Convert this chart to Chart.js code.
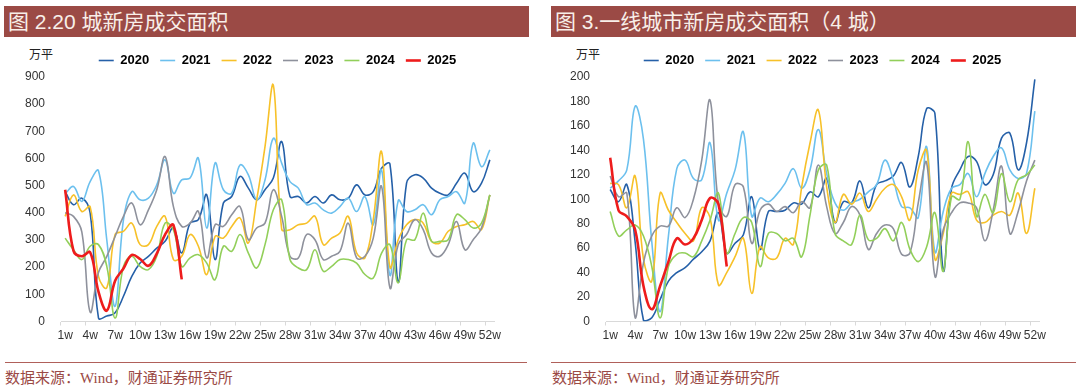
<!DOCTYPE html>
<html>
<head>
<meta charset="utf-8">
<script src="https://cdn.jsdelivr.net/npm/chart.js@4.4.1/dist/chart.umd.min.js"></script>
<style>
    body { margin: 0; width: 1080px; height: 391px; overflow: hidden; background: #fff; position: relative; font-family: "Liberation Sans", Arial, sans-serif; }
    .title { position: absolute; top: 6px; height: 31px; background: #9b4a45; color: #f8efe9; font-family: "Liberation Sans", "Noto Sans CJK SC", sans-serif; font-size: 21px; line-height: 31px; padding-left: 4px; box-sizing: border-box; white-space: nowrap; }
    .unit { position: absolute; top: 47px; font-size: 12px; line-height: 14px; color: #222; font-family: "Noto Sans CJK SC", sans-serif; }
    .rule { position: absolute; top: 362px; height: 1px; background: #b0605a; }
    .src { position: absolute; top: 369px; font-size: 15px; line-height: 18px; color: #9b4a45; font-family: "Liberation Serif", "Noto Sans CJK SC", serif; white-space: nowrap; }
    .box { position: absolute; top: 39px; height: 310px; }
</style>
</head>
<body>

<div class="title" style="left:4px;width:525px;">图 2.20 城新房成交面积</div>
<div class="title" style="left:551px;width:525px;">图 3.一线城市新房成交面积（4 城）</div>

<div class="unit" style="left:29px;">万平</div>
<div class="unit" style="left:576px;">万平</div>

<div class="box" style="left:0;width:540px;"><canvas id="leftChart" width="540" height="310"></canvas></div>
<div class="box" style="left:546px;width:534px;"><canvas id="rightChart" width="534" height="310"></canvas></div>

<div class="rule" style="left:5px;width:522px;"></div>
<div class="rule" style="left:551px;width:525px;"></div>
<div class="src" style="left:5px;">数据来源：Wind，财通证券研究所</div>
<div class="src" style="left:552px;">数据来源：Wind，财通证券研究所</div>

<script>
// week labels on the x axis (only every third one is shown)
const weeks = ['1w','2w','3w','4w','5w','6w','7w','8w','9w','10w','11w','12w','13w',
    '14w','15w','16w','17w','18w','19w','20w','21w','22w','23w','24w','25w','26w',
    '27w','28w','29w','30w','31w','32w','33w','34w','35w','36w','37w','38w','39w',
    '40w','41w','42w','43w','44w','45w','46w','47w','48w','49w','50w','51w','52w'];

const years = ['2020', '2021', '2022', '2023', '2024', '2025'];
const colors = ['#2560a8', '#6cc0ee', '#f7c129', '#8e919c', '#92cf5a', '#ee1c1c'];

// left chart: city new-home sales area (万平)
const city2020 = [478,430,454,400,13,20,32,93,166,215,240,270,295,344,252,362,375,466,228,436,460,534,491,448,485,528,
    662,460,460,436,460,436,466,448,454,503,466,478,564,580,145,509,540,528,491,472,466,509,546,478,509,595];
const city2021 = [470,497,442,515,555,300,56,374,478,448,454,503,595,472,521,528,601,344,583,485,472,576,540,448,521,674,
    583,515,491,430,436,411,399,423,454,405,460,356,558,170,445,405,411,430,393,448,460,478,436,656,570,632];
const city2022 = [387,466,405,423,166,124,320,332,362,283,283,350,387,228,240,320,277,173,313,307,350,381,289,448,644,870,
    340,338,356,362,387,283,307,326,387,252,234,375,625,200,301,356,375,362,295,289,332,350,356,368,338,466];
const city2023 = [400,387,330,35,180,240,313,387,436,356,411,485,607,423,350,362,405,234,356,350,393,423,301,344,362,485,
    387,240,234,320,301,228,240,258,362,234,240,307,497,124,283,320,375,338,252,240,283,368,264,301,344,466];
const city2024 = [307,264,228,277,283,203,13,203,240,203,191,240,362,338,203,234,246,215,154,277,258,320,252,197,283,411,
    448,228,197,191,264,185,203,228,228,215,173,160,252,283,142,301,301,399,295,295,301,393,375,344,362,466];
const city2025 = [485,260,240,255,110,40,150,195,245,230,205,250,320,355,155];

// right chart: tier-1 (4 cities) new-home sales area (万平)
const tier2020 = [108,98,112,65,1,3,18,33,40,44,51,57,66,89,56,64,71,102,59,90,90,91,97,96,106,102,
    117,81,98,97,115,93,112,115,119,130,110,135,174,170,42,109,124,135,131,112,120,150,154,124,146,198];
const tier2021 = [109,115,124,176,149,65,8,70,125,132,117,116,146,83,105,124,155,86,101,98,104,113,125,109,124,157,
    121,97,91,97,100,106,112,132,116,94,93,85,143,57,90,109,112,121,102,121,135,142,124,117,121,172];
const tier2022 = [113,112,93,119,51,33,105,91,81,72,66,93,85,30,40,53,68,23,61,52,52,68,63,110,146,173,
    110,81,104,96,105,90,100,109,112,102,83,124,140,51,72,105,104,106,83,81,87,90,87,105,72,109];
const tier2023 = [119,102,105,3,48,70,78,78,93,85,100,132,181,97,86,112,110,64,91,96,90,94,89,98,93,128,
    94,72,81,94,87,59,72,79,76,55,56,97,130,37,75,89,97,97,93,66,91,127,72,90,115,132];
const tier2024 = [90,70,75,79,70,45,3,45,55,56,53,66,83,105,56,72,85,81,45,72,72,66,68,53,87,124,
    128,72,66,63,87,67,68,76,66,81,59,49,61,89,41,102,100,147,86,104,89,121,98,116,120,128];
const tier2025 = [134,91,86,75,29,10,29,49,68,63,68,83,101,96,45];

function buildDatasets(series) {
    return series.map(function(values, i) {
        return {
            label: years[i],
            data: values,
            borderColor: colors[i],
            backgroundColor: colors[i],
            borderWidth: i === 5 ? 2.6 : 1.6,
            pointRadius: 0,
            tension: 0.4,
            fill: false,
            order: -i
        };
    });
}

function createChart(id, series, yMax, yStep, axisWidth, padRight) {
    const ctx = document.getElementById(id).getContext('2d');
    return new Chart(ctx, {
        type: 'line',
        data: {
            labels: weeks,
            datasets: buildDatasets(series)
        },
        options: {
            responsive: false,
            animation: false,
            layout: {
                padding: { top: 4, right: padRight, left: 0, bottom: 0 }
            },
            plugins: {
                tooltip: { enabled: false },
                legend: {
                    position: 'top',
                    align: 'center',
                    fullSize: false,
                    labels: {
                        usePointStyle: true,
                        pointStyle: 'line',
                        pointStyleWidth: 15,
                        padding: 11,
                        color: '#000',
                        font: { family: '"Liberation Sans", Arial', size: 13, weight: 'bold' },
                        sort: function(a, b) { return a.datasetIndex - b.datasetIndex; }
                    }
                }
            },
            scales: {
                x: {
                    offset: true,
                    grid: {
                        display: true,
                        offset: true,
                        drawOnChartArea: false,
                        drawTicks: true,
                        tickLength: 4,
                        color: function(c) { return c.index % 3 === 0 ? '#d9d9d9' : 'rgba(0,0,0,0)'; }
                    },
                    border: { display: true, color: '#d9d9d9' },
                    ticks: {
                        autoSkip: false,
                        maxRotation: 0,
                        minRotation: 0,
                        padding: 3,
                        color: '#333',
                        font: { family: '"Liberation Sans", Arial', size: 12 },
                        callback: function(value, index) {
                            return index % 3 === 0 ? this.getLabelForValue(value) : '';
                        }
                    },
                    afterFit: function(scale) { scale.height = 27.5; }
                },
                y: {
                    min: 0,
                    max: yMax,
                    grid: { display: false },
                    border: { display: false },
                    ticks: {
                        stepSize: yStep,
                        padding: 8,
                        color: '#333',
                        font: { family: '"Liberation Sans", Arial', size: 12 }
                    },
                    afterFit: function(scale) { scale.width = axisWidth; }
                }
            }
        }
    });
}

createChart('leftChart', [city2020, city2021, city2022, city2023, city2024, city2025], 900, 100, 61, 46);
createChart('rightChart', [tier2020, tier2021, tier2022, tier2023, tier2024, tier2025], 200, 20, 60, 41);
</script>
</body>
</html>
